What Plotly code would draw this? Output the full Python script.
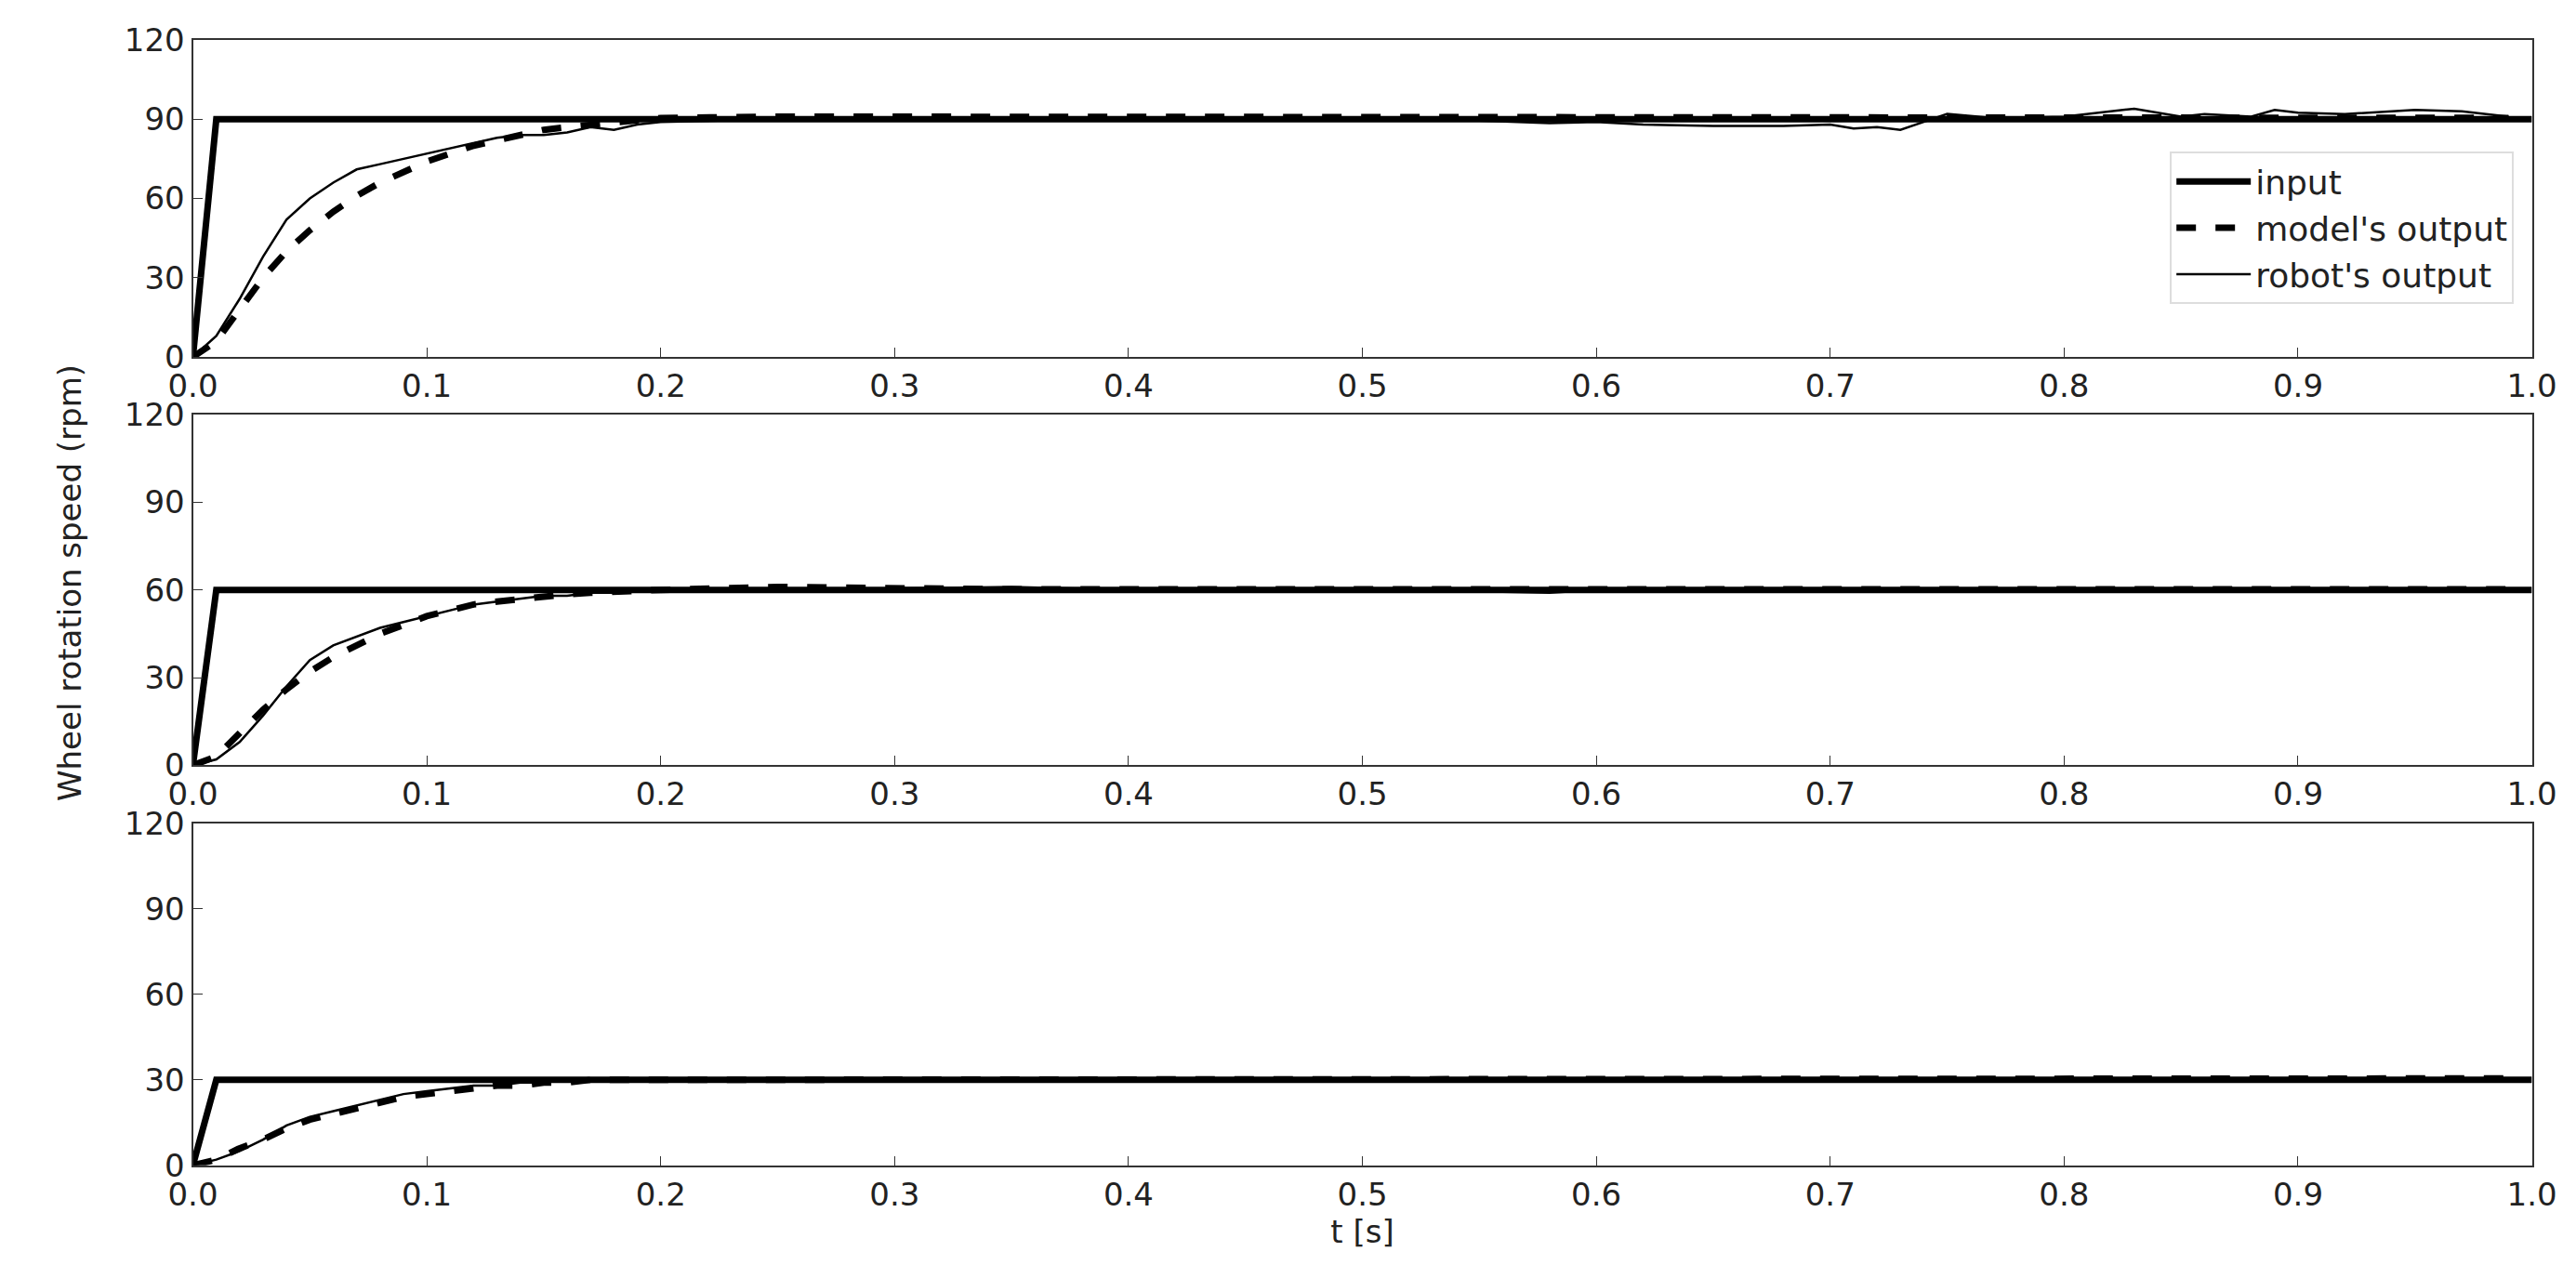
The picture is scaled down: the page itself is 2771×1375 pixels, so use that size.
import plotly.graph_objects as go

t_fast = [0.00, 0.01, 0.02, 0.03, 0.04, 0.05, 0.06, 0.07, 0.08, 0.09, 0.10, 0.11, 0.12, 0.13, 0.14, 0.15, 0.16, 0.17, 0.18, 0.19, 0.20]
t_slow = [0.25, 0.30, 0.35, 0.40, 0.45, 0.50, 0.55, 0.58, 0.60, 0.62, 0.65, 0.68, 0.70, 0.71, 0.72, 0.73, 0.74, 0.75, 0.77, 0.80, 0.83, 0.85, 0.86, 0.88, 0.89, 0.90, 0.92, 0.95, 0.97, 0.99, 1.00]
t_all = t_fast + t_slow

input1 = [0] + [90] * (len(t_all) - 1)
input2 = [0] + [60] * (len(t_all) - 1)
input3 = [0] + [30] * (len(t_all) - 1)

model1 = [0, 6, 18, 30, 40, 48, 55, 61, 66, 70, 74, 77, 80, 82, 84, 86, 87, 88, 89, 90, 90.5,
          91, 91, 91, 91, 91, 90.5, 90.5, 90.5, 90.5, 90.5, 90.5, 90.5, 90.5, 90.5, 90.5, 90.5, 90.5, 90.5, 90.5, 90.5, 90.5, 90.5, 90.5, 90.5, 90.5, 90.5, 90.5, 90.5, 90.5, 90.5]
robot1 = [0, 8, 22, 38, 52, 60, 66, 71, 73, 75, 77, 79, 81, 83, 84, 84, 85, 87, 86, 88, 89,
          90, 90, 90, 90, 90, 90, 89.5, 88.5, 89, 88, 87.5, 87.5, 88, 86.5, 87, 86, 89, 92, 90.5, 91, 94, 91, 92, 91, 93.5, 92.5, 92, 93.5, 93, 91]

model2 = [0, 3, 11, 19, 26, 32, 37, 41, 45, 48, 51, 53, 55, 56, 57, 58, 58.5, 59, 59.5, 60, 60,
          61, 60.5] + [60.2] * 28
robot2 = [0, 2, 8, 17, 27, 36, 41, 44, 47, 49, 51, 53, 55, 56, 57, 58, 58, 59, 59, 60, 60,
          59.5, 60.5, 61, 60, 60, 60, 59.5, 59, 60, 60, 60, 60, 60, 60, 60, 60, 60, 60, 60, 60, 60, 60, 60, 60, 60, 60.5, 60, 60, 60, 60]

model3 = [0, 2, 6, 9, 13, 16, 18, 20, 22, 24, 25, 26, 27, 28, 28, 29, 29, 30, 30, 30, 30] + [30.5] * 30
robot3 = [0, 2, 5, 9, 14, 17, 19, 21, 23, 25, 26, 27, 28, 28, 29, 29, 30, 30, 30, 30, 30] + [30] * 30

x_ticks = [0.0, 0.1, 0.2, 0.3, 0.4, 0.5, 0.6, 0.7, 0.8, 0.9, 1.0]
y_ticks = [0, 30, 60, 90, 120]

fig = go.Figure()
panels = [(input1, model1, robot1), (input2, model2, robot2), (input3, model3, robot3)]
for i, (inp, mod, rob) in enumerate(panels):
    xa = "x" if i == 0 else f"x{i+1}"
    ya = "y" if i == 0 else f"y{i+1}"
    fig.add_trace(go.Scatter(x=t_all, y=inp, mode="lines", line=dict(color="black", width=7),
                             name="input", showlegend=(i == 0), xaxis=xa, yaxis=ya))
    fig.add_trace(go.Scatter(x=t_all, y=mod, mode="lines", line=dict(color="black", width=7, dash="dash"),
                             name="model's output", showlegend=(i == 0), xaxis=xa, yaxis=ya))
    fig.add_trace(go.Scatter(x=t_all, y=rob, mode="lines", line=dict(color="black", width=2.5),
                             name="robot's output", showlegend=(i == 0), xaxis=xa, yaxis=ya))

font = dict(family="DejaVu Sans", size=34, color="#222")
axis_common = dict(showline=True, mirror=True, linecolor="#333", linewidth=2, ticks="inside",
                   ticklen=10, tickcolor="#333", showgrid=False, zeroline=False, tickfont=font,
                   automargin=False)
ydomains = [[0.7265, 0.9745], [0.407, 0.6815], [0.094, 0.3615]]
layout = dict(width=2771, height=1375, plot_bgcolor="white", paper_bgcolor="white",
              margin=dict(l=0, r=0, t=0, b=0, autoexpand=False), font=font,
              legend=dict(x=0.973, y=0.887, xanchor="right", yanchor="top", bordercolor="#ddd", borderwidth=2,
                          font=dict(family="DejaVu Sans", size=36, color="#222"), bgcolor="white",
                          tracegroupgap=0, itemwidth=80))
for i in range(3):
    suf = "" if i == 0 else str(i + 1)
    layout["xaxis" + suf] = dict(axis_common, domain=[0.072, 0.98], range=[0, 1], tickvals=x_ticks,
                                 ticktext=[f"{v:.1f}" for v in x_ticks], anchor="y" + suf)
    layout["yaxis" + suf] = dict(axis_common, domain=ydomains[i], range=[0, 120], tickvals=y_ticks, anchor="x" + suf)
layout["xaxis3"]["title"] = dict(text="t [s]", font=font, standoff=5)
fig.update_layout(**layout)
fig.add_annotation(text="Wheel rotation speed (rpm)", xref="paper", yref="paper", x=0.016, y=0.55,
                   textangle=-90, showarrow=False, font=font)
fig.write_html("out.html")
